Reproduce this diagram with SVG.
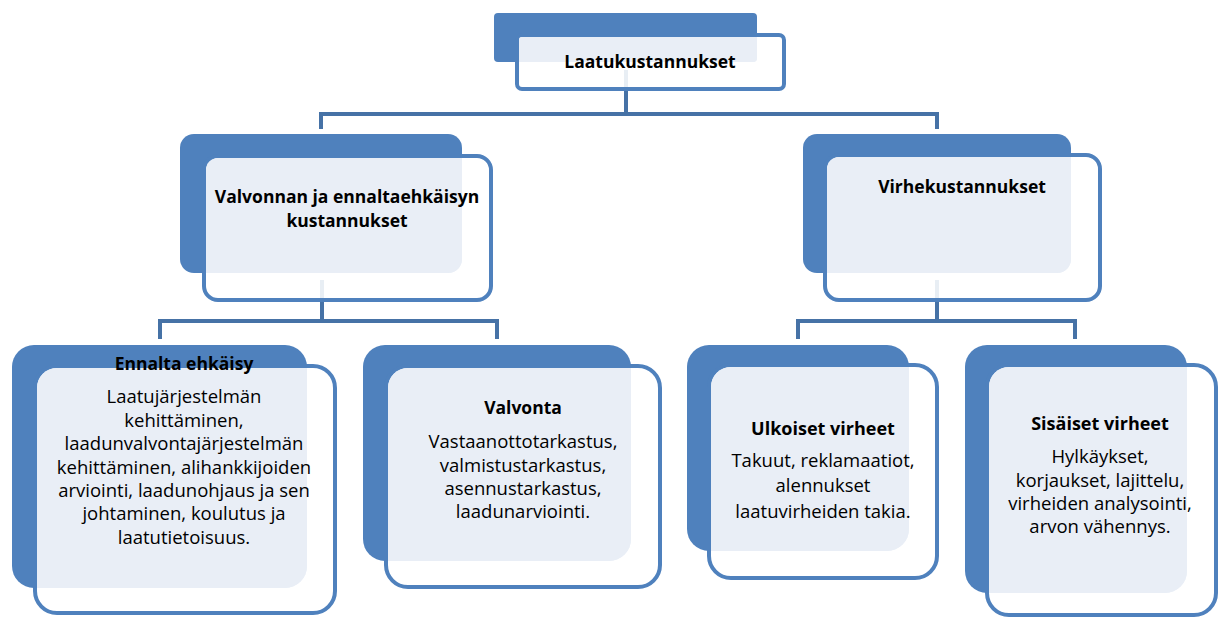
<svg xmlns="http://www.w3.org/2000/svg" width="1224" height="617" viewBox="0 0 1224 617">
<style>
.back{fill:#4F81BD}
.frame{fill:#FFFFFF;fill-opacity:0.88;stroke:#4F81BD;stroke-width:4}
.light{fill:#E9EEF6}
.conn{fill:none;stroke:#4672A6;stroke-width:4;stroke-linejoin:miter}
.t{font-family:"Open Sans","Liberation Sans",sans-serif;font-weight:bold;font-size:17.5px;fill:#000;text-anchor:middle}
.b{font-family:"Open Sans","Liberation Sans",sans-serif;font-size:18.5px;fill:#000;text-anchor:middle}
.t2{font-size:18px}
</style>
<rect width="1224" height="617" fill="#FFFFFF"/>
<g id="connectors">
<path class="conn" d="M626,70 V114 M321,129 V114 H937 V129"/>
<path class="conn" d="M322,280 V321 M160,339 V321 H497 V339"/>
<path class="conn" d="M937,280 V321 M798,339 V321 H1075 V339"/>
</g>
<g id="n-top">
<rect class="back" x="494" y="13" width="263" height="49" rx="4"/>
<rect class="frame" x="517" y="35" width="267" height="54" rx="5"/>
<path class="light" d="M522,37 H757 V58 A4 4 0 0 1 753,62 H519 V40 A3 3 0 0 1 522,37 Z"/>
<text class="t" x="650" y="68">Laatukustannukset</text>
</g>
<g id="n-valvonnan">
<rect class="back" x="180" y="134" width="282" height="139" rx="14"/>
<rect class="frame" x="204" y="156" width="287" height="144" rx="14"/>
<path class="light" d="M218,158 H462 V259 A14 14 0 0 1 448,273 H206 V170 A12 12 0 0 1 218,158 Z"/>
<text class="t" x="347" y="203">Valvonnan ja ennaltaehkäisyn</text>
<text class="t" x="347" y="227">kustannukset</text>
</g>
<g id="n-virhe">
<rect class="back" x="803" y="134" width="268" height="139" rx="14"/>
<rect class="frame" x="825" y="155" width="275" height="145" rx="14"/>
<path class="light" d="M839,157 H1071 V259 A14 14 0 0 1 1057,273 H827 V169 A12 12 0 0 1 839,157 Z"/>
<text class="t" x="962" y="193">Virhekustannukset</text>
</g>
<g id="n-ennalta">
<rect class="back" x="12" y="345" width="295" height="243" rx="22"/>
<rect class="frame" x="35" y="366" width="300" height="247" rx="22"/>
<path class="light" d="M57,368 H307 V566 A22 22 0 0 1 285,588 H37 V388 A20 20 0 0 1 57,368 Z"/>
<text class="t" x="184" y="370">Ennalta ehkäisy</text>
<text class="b" x="184" y="403">Laatujärjestelmän</text>
<text class="b" x="184" y="426.5">kehittäminen,</text>
<text class="b" x="184" y="450">laadunvalvontajärjestelmän</text>
<text class="b" x="184" y="473.5">kehittäminen, alihankkijoiden</text>
<text class="b" x="184" y="497">arviointi, laadunohjaus ja sen</text>
<text class="b" x="184" y="520">johtaminen, koulutus ja</text>
<text class="b" x="184" y="543.5">laatutietoisuus.</text>
</g>
<g id="n-valvonta">
<rect class="back" x="363" y="345" width="268" height="216" rx="22"/>
<rect class="frame" x="386" y="366" width="274" height="221" rx="22"/>
<path class="light" d="M408,368 H631 V539 A22 22 0 0 1 609,561 H388 V388 A20 20 0 0 1 408,368 Z"/>
<text class="t" x="523" y="414">Valvonta</text>
<text class="b" x="523" y="448">Vastaanottotarkastus,</text>
<text class="b" x="523" y="471.5">valmistustarkastus,</text>
<text class="b" x="523" y="495">asennustarkastus,</text>
<text class="b" x="523" y="518">laadunarviointi.</text>
</g>
<g id="n-ulkoiset">
<rect class="back" x="687" y="345" width="222" height="206" rx="22"/>
<rect class="frame" x="709" y="365" width="228" height="213" rx="22"/>
<path class="light" d="M731,367 H909 V529 A22 22 0 0 1 887,551 H711 V387 A20 20 0 0 1 731,367 Z"/>
<text class="t t2" x="823" y="435">Ulkoiset virheet</text>
<text class="b" x="823" y="467">Takuut, reklamaatiot,</text>
<text class="b" x="823" y="492">alennukset</text>
<text class="b" x="823" y="518">laatuvirheiden takia.</text>
</g>
<g id="n-sisaiset">
<rect class="back" x="965" y="345" width="222" height="248" rx="22"/>
<rect class="frame" x="987" y="365" width="229" height="250" rx="22"/>
<path class="light" d="M1009,367 H1187 V571 A22 22 0 0 1 1165,593 H989 V387 A20 20 0 0 1 1009,367 Z"/>
<text class="t t2" x="1100" y="430">Sisäiset virheet</text>
<text class="b" x="1100" y="463">Hylkäykset,</text>
<text class="b" x="1100" y="487">korjaukset, lajittelu,</text>
<text class="b" x="1100" y="510">virheiden analysointi,</text>
<text class="b" x="1100" y="533">arvon vähennys.</text>
</g>
</svg>
